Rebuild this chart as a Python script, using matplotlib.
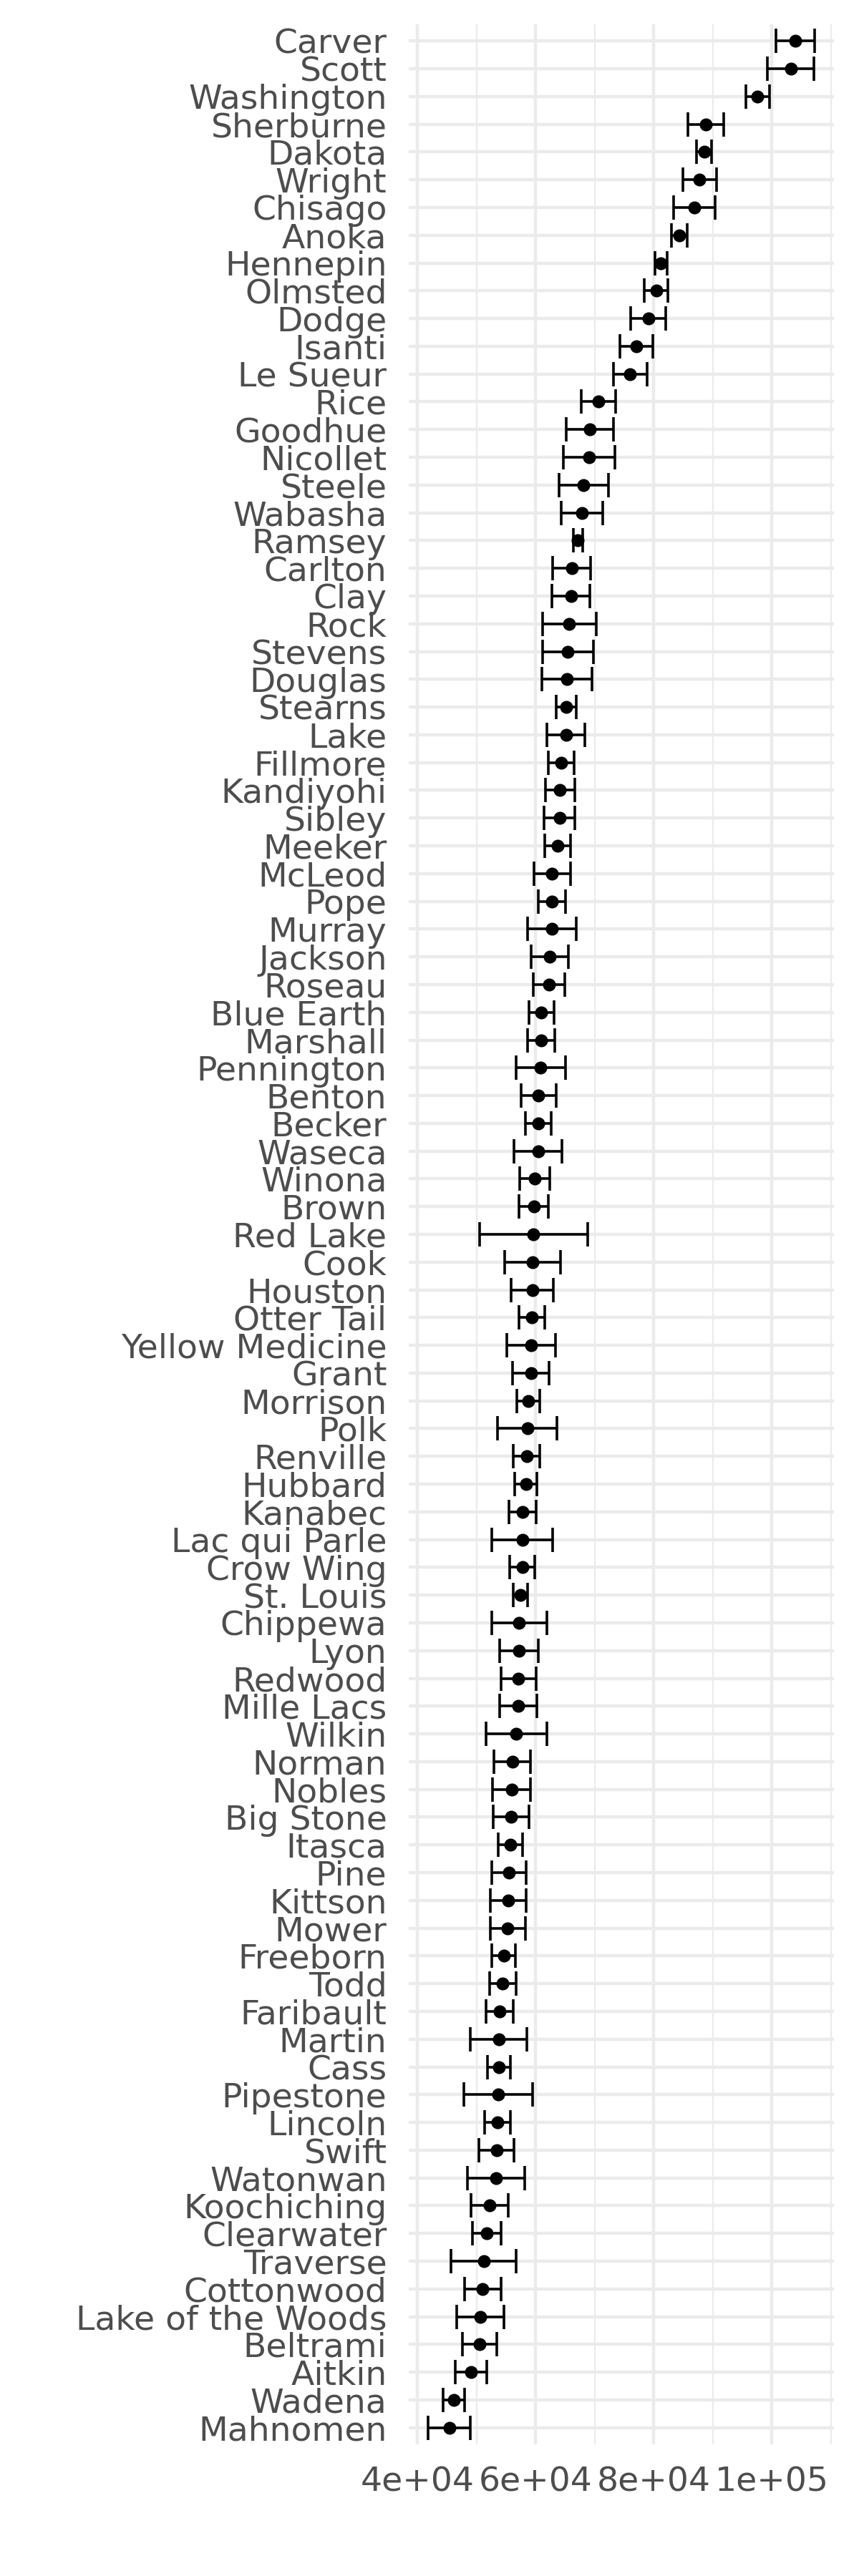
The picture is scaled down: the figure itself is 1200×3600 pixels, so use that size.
import matplotlib
matplotlib.use("Agg")
import matplotlib.pyplot as plt
import numpy as np

# Median household income by Minnesota county, estimate with margin of error
counties = [
    "Carver", "Scott", "Washington", "Sherburne", "Dakota", "Wright", "Chisago",
    "Anoka", "Hennepin", "Olmsted", "Dodge", "Isanti", "Le Sueur", "Rice",
    "Goodhue", "Nicollet", "Steele", "Wabasha", "Ramsey", "Carlton", "Clay",
    "Rock", "Stevens", "Douglas", "Stearns", "Lake", "Fillmore", "Kandiyohi",
    "Sibley", "Meeker", "McLeod", "Pope", "Murray", "Jackson", "Roseau",
    "Blue Earth", "Marshall", "Pennington", "Benton", "Becker", "Waseca",
    "Winona", "Brown", "Red Lake", "Cook", "Houston", "Otter Tail",
    "Yellow Medicine", "Grant", "Morrison", "Polk", "Renville", "Hubbard",
    "Kanabec", "Lac qui Parle", "Crow Wing", "St. Louis", "Chippewa", "Lyon",
    "Redwood", "Mille Lacs", "Wilkin", "Norman", "Nobles", "Big Stone",
    "Itasca", "Pine", "Kittson", "Mower", "Freeborn", "Todd", "Faribault",
    "Martin", "Cass", "Pipestone", "Lincoln", "Swift", "Watonwan",
    "Koochiching", "Clearwater", "Traverse", "Cottonwood", "Lake of the Woods",
    "Beltrami", "Aitkin", "Wadena", "Mahnomen",
]

estimate = [
    104000, 103200, 97600, 88800, 88550, 87800, 86900,
    84400, 81250, 80450, 79100, 77050, 76000, 70650,
    69250, 69080, 68150, 67850, 67200, 66150, 66000,
    65700, 65500, 65350, 65200, 65150, 64300, 64150,
    64080, 63770, 62800, 62800, 62800, 62420, 62270,
    61000, 60920, 60900, 60500, 60450, 60420,
    59900, 59720, 59660, 59500, 59470, 59400,
    59230, 59220, 58800, 58600, 58500, 58380,
    57800, 57750, 57750, 57430, 57250, 57200,
    57140, 57100, 56750, 56080, 55960, 55880,
    55740, 55550, 55340, 55300, 54600, 54450, 53920,
    53780, 53780, 53650, 53550, 53420, 53300,
    52250, 51720, 51250, 51050, 50680,
    50550, 49100, 46170, 45400,
]

moe = [
    3250, 3970, 1985, 3045, 1245, 2815, 3510,
    1340, 1015, 1985, 2955, 2815, 2860, 2905,
    4005, 4395, 4200, 3530, 840, 3190, 3250,
    4535, 4285, 4255, 1740, 3220, 2185, 2465,
    2630, 2210, 3110, 2295, 4145, 3165, 2660,
    2100, 2295, 4225, 2970, 2155, 4005,
    2575, 2490, 9125, 4735, 3560, 2215,
    4115, 3105, 1960, 5010, 2240, 1875,
    2270, 5150, 2100, 1205, 4705, 3220,
    3025, 3135, 5180, 3110, 3190, 3025,
    2015, 2910, 3025, 2995, 1990, 2265, 2295,
    4785, 1935, 5825, 2160, 2970, 4870,
    3165, 2435, 5515, 3110, 3975,
    2915, 2660, 1765, 3585,
]

x_ticks = [40000, 60000, 80000, 100000]
x_tick_labels = ["4e+04", "6e+04", "8e+04", "1e+05"]
x_minor = [50000, 70000, 90000, 110000]

est = np.array(estimate)
err = np.array(moe)
y = np.arange(len(counties))

fig = plt.figure(figsize=(12, 36), dpi=100)
ax = fig.add_axes([571 / 1200, 1 - 3416 / 3600, 594 / 1200, (3416 - 34) / 3600])

# gridlines like theme_minimal
for v in x_minor:
    ax.axvline(v, color="#EBEBEB", lw=1.6, zorder=0)
for v in x_ticks:
    ax.axvline(v, color="#EBEBEB", lw=3.2, zorder=0)
for yy in y:
    ax.axhline(yy, color="#EBEBEB", lw=3.2, zorder=0)

ax.errorbar(est, y, xerr=err, fmt="none", ecolor="black", elinewidth=2.6,
            capsize=12.5, capthick=2.6, zorder=2)
ax.plot(est, y, "o", color="black", markersize=12, zorder=3)

lo = (est - err).min()
hi = (est + err).max()
pad = 0.05 * (hi - lo)
ax.set_xlim(lo - pad, hi + pad)
ax.set_ylim(len(counties) - 1 + 0.6, -0.6)

ax.set_yticks(y)
ax.set_yticklabels(counties)
ax.set_xticks(x_ticks)
ax.set_xticklabels(x_tick_labels)
ax.tick_params(axis="both", length=0, labelsize=34, colors="#4D4D4D")
ax.tick_params(axis="y", pad=22)
ax.tick_params(axis="x", pad=22)
for s in ax.spines.values():
    s.set_visible(False)

fig.savefig("out.png", dpi=100)
